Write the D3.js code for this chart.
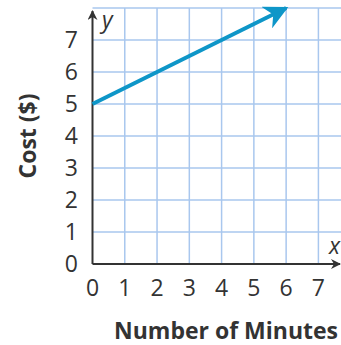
<!DOCTYPE html>
<html><head><meta charset="utf-8">
<script src="https://cdn.jsdelivr.net/npm/d3@7"></script>
<style>body{margin:0;background:#fff}svg{display:block}</style>
</head><body>
<svg id="c" width="341" height="345"></svg>
<script>
const xTicks = [0,1,2,3,4,5,6,7];
const yTicks = [0,1,2,3,4,5,6,7];
const gridX = [1,2,3,4,5,6,7];
const gridY = [1,2,3,4,5,6,7,8];
const lineX = [0, 6];
const lineY = [5, 8];
const xTitle = "Number of Minutes";
const yTitle = "Cost ($)";

const svg = d3.select("#c");
const x = d3.scaleLinear().domain([0, 7.7]).range([92.5, 341]);
const y = d3.scaleLinear().domain([0, 8]).range([264, 8]);
const gridColor = "#a9c7ee";
const font = "'Open Sans', 'Noto Sans', sans-serif";

const g = svg.append("g");
g.selectAll("line.gx").data(gridX).join("line")
  .attr("x1", d => x(d)).attr("x2", d => x(d))
  .attr("y1", y(8)).attr("y2", y(0))
  .attr("stroke", gridColor).attr("stroke-width", 1.5);
g.selectAll("line.gy").data(gridY).join("line")
  .attr("x1", x(0)).attr("x2", 341)
  .attr("y1", d => y(d)).attr("y2", d => y(d))
  .attr("stroke", gridColor).attr("stroke-width", 1.5);

const defs = svg.append("defs");
defs.append("marker").attr("id","ah").attr("viewBox","0 0 10 10")
  .attr("refX",9).attr("refY",5).attr("markerWidth",10).attr("markerHeight",10)
  .attr("markerUnits","userSpaceOnUse").attr("orient","auto")
  .append("path").attr("d","M0,0 L10,5 L0,10 L3,5 Z").attr("fill","#333");
defs.append("marker").attr("id","bh").attr("viewBox","0 0 10 10")
  .attr("refX",9).attr("refY",5).attr("markerWidth",6).attr("markerHeight",6)
  .attr("orient","auto")
  .append("path").attr("d","M0,0 L10,5 L0,10 L3,5 Z").attr("fill","#0e96c8");

// axes
svg.append("line").attr("x1", x(0)).attr("x2", 340).attr("y1", y(0)).attr("y2", y(0))
  .attr("stroke","#333").attr("stroke-width",2).attr("marker-end","url(#ah)");
svg.append("line").attr("x1", x(0)).attr("x2", x(0)).attr("y1", y(0)).attr("y2", 11)
  .attr("stroke","#333").attr("stroke-width",2).attr("marker-end","url(#ah)");

// data line
const data = lineX.map((d,i)=>[d, lineY[i]]);
svg.append("path").datum(data)
  .attr("d", d3.line().x(d=>x(d[0])).y(d=>y(d[1])))
  .attr("fill","none").attr("stroke","#0e96c8").attr("stroke-width",4)
  .attr("marker-end","url(#bh)");

// tick labels
svg.selectAll("text.xt").data(xTicks).join("text")
  .attr("x", d => x(d)).attr("y", 296).attr("text-anchor","middle")
  .attr("font-family", font).attr("font-size", 23).attr("fill","#333").text(d=>d);
svg.selectAll("text.yt").data(yTicks).join("text")
  .attr("x", 78).attr("y", d => y(d) + 8).attr("text-anchor","end")
  .attr("font-family", font).attr("font-size", 23).attr("fill","#333").text(d=>d);

svg.append("text").attr("x",102).attr("y",28).attr("font-family",font)
  .attr("font-style","italic").attr("font-size",23).attr("fill","#333").text("y");
svg.append("text").attr("x",329).attr("y",254).attr("font-family",font)
  .attr("font-style","italic").attr("font-size",23).attr("fill","#333").text("x");

svg.append("text").attr("x",226).attr("y",339).attr("text-anchor","middle")
  .attr("font-family",font).attr("font-weight","bold").attr("font-size",23)
  .attr("fill","#333").text(xTitle);
svg.append("text").attr("transform","translate(36,136) rotate(-90)").attr("text-anchor","middle")
  .attr("font-family",font).attr("font-weight","bold").attr("font-size",23)
  .attr("fill","#333").text(yTitle);
</script>
</body></html>
